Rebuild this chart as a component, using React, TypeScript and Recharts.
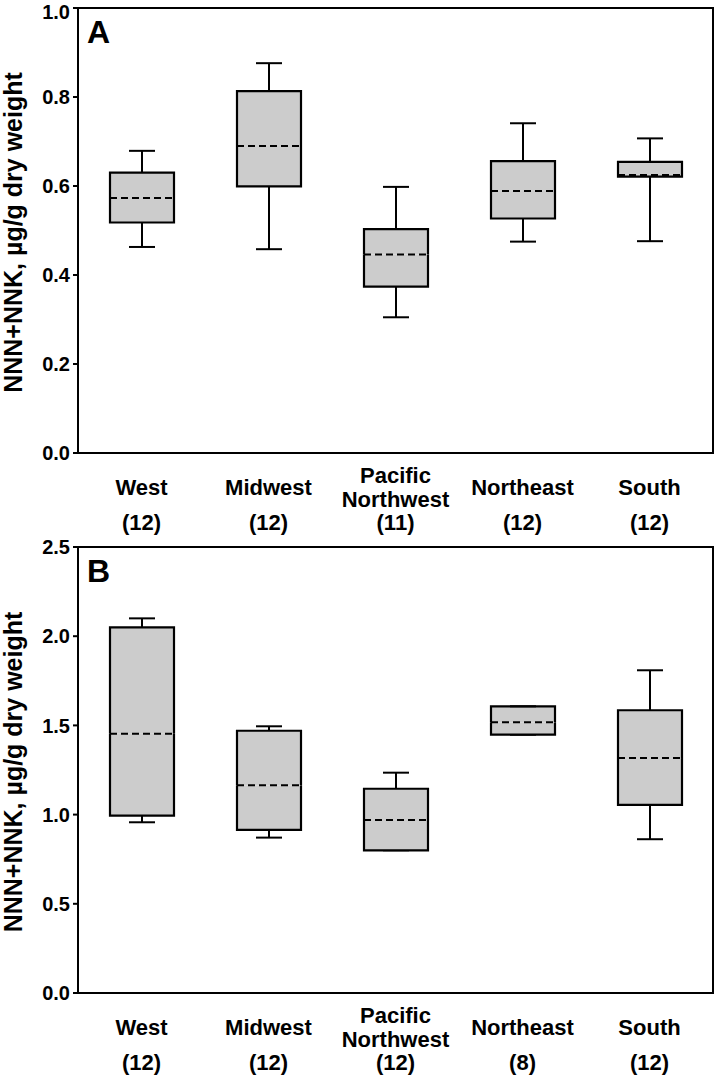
import {
  Bar,
  ComposedChart,
  ReferenceArea,
  XAxis,
  YAxis,
} from "recharts";

const FONT = "'Liberation Sans', Arial, sans-serif";
const BOX_FILL = "#cccccc";
const CAP_HALF = 13;

const categories = ["West", "Midwest", "Pacific Northwest", "Northeast", "South"];

// panel A: NNN+NNK, µg/g dry weight
const countsA = [12, 12, 11, 12, 12];
const minA = [0.463, 0.458, 0.305, 0.475, 0.476];
const q1A = [0.518, 0.599, 0.374, 0.527, 0.621];
const medianA = [0.573, 0.69, 0.446, 0.589, 0.625];
const q3A = [0.63, 0.813, 0.503, 0.656, 0.654];
const maxA = [0.679, 0.876, 0.598, 0.741, 0.707];
const ticksA = [0, 0.2, 0.4, 0.6, 0.8, 1.0];

// panel B
const countsB = [12, 12, 12, 8, 12];
const minB = [0.957, 0.871, 0.8, 1.448, 0.862];
const q1B = [0.994, 0.914, 0.8, 1.448, 1.055];
const medianB = [1.453, 1.164, 0.97, 1.517, 1.317];
const q3B = [2.05, 1.47, 1.145, 1.607, 1.585];
const maxB = [2.1, 1.495, 1.235, 1.607, 1.809];
const ticksB = [0, 0.5, 1.0, 1.5, 2.0, 2.5];

function buildRows(min: number[], q1: number[], med: number[], q3: number[], max: number[]) {
  return categories.map((name, i) => ({
    name,
    base: min[i],
    lowWhisker: q1[i] - min[i],
    lowBox: med[i] - q1[i],
    highBox: q3[i] - med[i],
    highWhisker: max[i] - q3[i],
  }));
}

const LowWhisker = (props: any) => {
  const { x, y, width, height } = props;
  const cx = x + width / 2;
  return (
    <g stroke="#000" strokeWidth={2}>
      <line x1={cx} x2={cx} y1={y} y2={y + height} />
      <line x1={cx - CAP_HALF} x2={cx + CAP_HALF} y1={y + height} y2={y + height} />
    </g>
  );
};

const HighWhisker = (props: any) => {
  const { x, y, width, height } = props;
  const cx = x + width / 2;
  return (
    <g stroke="#000" strokeWidth={2}>
      <line x1={cx} x2={cx} y1={y} y2={y + height} />
      <line x1={cx - CAP_HALF} x2={cx + CAP_HALF} y1={y} y2={y} />
    </g>
  );
};

const LowBox = (props: any) => {
  const { x, y, width, height } = props;
  return (
    <g>
      <rect x={x} y={y} width={width} height={Math.max(height, 0)} fill={BOX_FILL} />
      <path
        d={`M${x},${y} L${x},${y + height} L${x + width},${y + height} L${x + width},${y}`}
        fill="none"
        stroke="#000"
        strokeWidth={2.2}
      />
    </g>
  );
};

const HighBox = (props: any) => {
  const { x, y, width, height } = props;
  return (
    <g>
      <rect x={x} y={y} width={width} height={Math.max(height, 0)} fill={BOX_FILL} />
      <path
        d={`M${x},${y + height} L${x},${y} L${x + width},${y} L${x + width},${y + height}`}
        fill="none"
        stroke="#000"
        strokeWidth={2.2}
      />
      <line
        x1={x}
        x2={x + width}
        y1={y + height}
        y2={y + height}
        stroke="#000"
        strokeWidth={2}
        strokeDasharray="7 4"
      />
    </g>
  );
};

function RegionTick(props: any) {
  const { x, y, payload, counts } = props;
  const idx = categories.indexOf(payload.value);
  const words = String(payload.value).split(" ");
  return (
    <g>
      <text textAnchor="middle" fontFamily={FONT} fontWeight="bold" fontSize={22} fill="#000">
        {words.length > 1 ? (
          <>
            <tspan x={x} y={y + 30}>{words[0]}</tspan>
            <tspan x={x} y={y + 54}>{words[1]}</tspan>
          </>
        ) : (
          <tspan x={x} y={y + 42}>{payload.value}</tspan>
        )}
        <tspan x={x} y={y + 77}>({counts[idx]})</tspan>
      </text>
    </g>
  );
}

function YLabel(props: any) {
  const { viewBox } = props;
  const cx = 22;
  const cy = viewBox.y + viewBox.height / 2 + 2;
  return (
    <text
      x={cx}
      y={cy}
      transform={`rotate(-90, ${cx}, ${cy})`}
      textAnchor="middle"
      fontFamily={FONT}
      fontWeight="bold"
      fontSize={25}
      fill="#000"
    >
      NNN+NNK, µg/g dry weight
    </text>
  );
}

type PanelProps = {
  letter: string;
  rows: ReturnType<typeof buildRows>;
  counts: number[];
  ticks: number[];
  top: number;
  height: number;
  marginTop: number;
  xAxisHeight: number;
};

function BoxPanel({ letter, rows, counts, ticks, top, height, marginTop, xAxisHeight }: PanelProps) {
  const yMax = ticks[ticks.length - 1];
  return (
    <div style={{ position: "absolute", left: 0, top }}>
      <ComposedChart
        width={717}
        height={height}
        data={rows}
        margin={{ top: marginTop, right: 4, bottom: 0, left: 0 }}
        barSize={64}
      >
        <XAxis
          dataKey="name"
          type="category"
          height={xAxisHeight}
          tickLine={false}
          tickSize={0}
          tickMargin={0}
          interval={0}
          axisLine={{ stroke: "#000", strokeWidth: 2 }}
          tick={(p: any) => <RegionTick {...p} counts={counts} />}
        />
        <YAxis
          type="number"
          domain={[0, yMax]}
          ticks={ticks}
          width={78}
          tickSize={5}
          tickMargin={3}
          tickFormatter={(v: number) => v.toFixed(1)}
          tick={{ fontSize: 20, fontWeight: "bold", fill: "#000", fontFamily: FONT }}
          axisLine={{ stroke: "#000", strokeWidth: 2 }}
          tickLine={{ stroke: "#000", strokeWidth: 2 }}
          label={(p: any) => <YLabel {...p} />}
        />
        <Bar dataKey="base" stackId="box" fill="none" isAnimationActive={false} />
        <Bar dataKey="lowWhisker" stackId="box" shape={LowWhisker} isAnimationActive={false} />
        <Bar dataKey="lowBox" stackId="box" shape={LowBox} isAnimationActive={false} />
        <Bar dataKey="highBox" stackId="box" shape={HighBox} isAnimationActive={false} />
        <Bar dataKey="highWhisker" stackId="box" shape={HighWhisker} isAnimationActive={false} />
        <ReferenceArea y1={0} y2={yMax} fill="none" stroke="#000" strokeWidth={2} ifOverflow="visible" />
        <text x={87} y={marginTop + 35} fontFamily={FONT} fontWeight="bold" fontSize={32} fill="#000">
          {letter}
        </text>
      </ComposedChart>
    </div>
  );
}

export default function App() {
  const rowsA = buildRows(minA, q1A, medianA, q3A, maxA);
  const rowsB = buildRows(minB, q1B, medianB, q3B, maxB);
  return (
    <div style={{ position: "absolute", left: 0, top: 0, width: 717, height: 1075, background: "#fff" }}>
      <BoxPanel letter="A" rows={rowsA} counts={countsA} ticks={ticksA} top={0} height={540} marginTop={8} xAxisHeight={87} />
      <BoxPanel letter="B" rows={rowsB} counts={countsB} ticks={ticksB} top={530} height={545} marginTop={17} xAxisHeight={82} />
    </div>
  );
}
